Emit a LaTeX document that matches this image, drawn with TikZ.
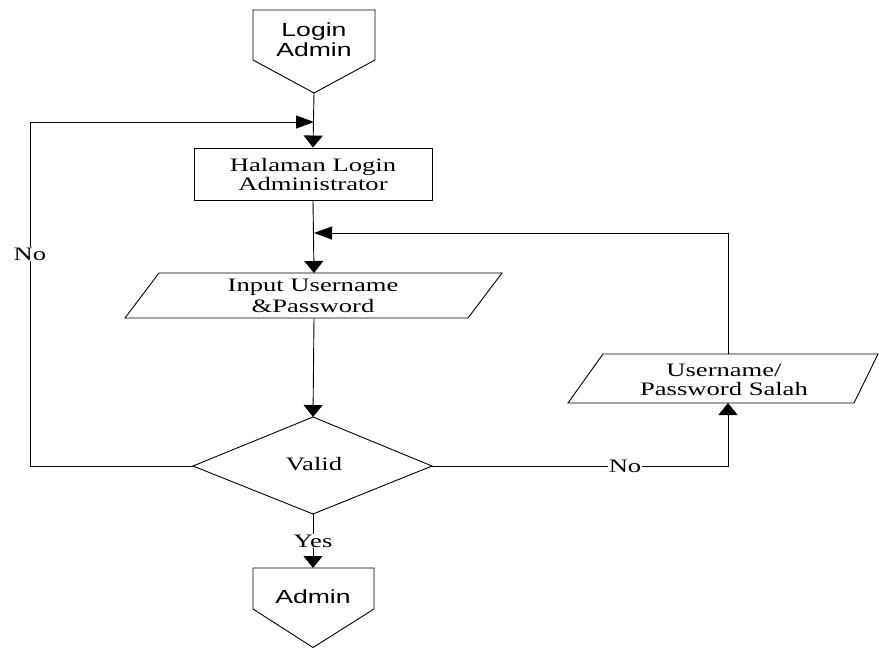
\documentclass[tikz,border=0pt]{standalone}
\usepackage{fontspec}
\setmainfont{Liberation Serif}
\newfontfamily\arialf{Liberation Sans}
\usetikzlibrary{arrows.meta}
\newcommand\sx[1]{\scalebox{1.4}[1]{#1}}
\begin{document}
\begin{tikzpicture}[x=1pt,y=-1pt,line width=0.9pt,
  font=\fontsize{19}{20}\selectfont,
  txt/.style={align=center,inner sep=1pt},
  lbl/.style={fill=white,inner sep=1pt},
  outline/.style={draw=black,line join=miter},
  varr/.style={-{Triangle[length=12pt,width=19pt]}},
  harr/.style={-{Triangle[length=18pt,width=13pt]}}]
\useasboundingbox (0,0) rectangle (879,648);

% Login Admin (off-page connector)
\draw[outline] (253,10) -- (375,10) -- (375,60) -- (314,93) -- (253,60) -- cycle;
\node[txt,font=\arialf\fontsize{19}{20}\selectfont] (login) at (314,40) {\sx{Login}\\\sx{Admin}};
\coordinate (loginTip) at (314,93);

% Halaman Login Administrator
\node[draw,minimum width=238pt,minimum height=52pt,inner sep=0pt,align=center,
  font=\fontsize{19}{19}\selectfont] (halaman) at (313,174) {\sx{Halaman Login}\\\sx{Administrator}};
\coordinate (j1) at (314,122);
\coordinate (j2) at (314,233);

% Input Username & Password
\draw[outline] (159,273) -- (502,273) -- (468,318) -- (125,318) -- cycle;
\node[txt,font=\fontsize{19}{21}\selectfont] (input) at (313,296) {\sx{Input Username}\\\sx{\&Password}};
\coordinate (inTop) at (314,273);
\coordinate (inBot) at (314,318);

% Valid diamond
\draw[outline] (313,417) -- (432,466) -- (313,514) -- (193,466) -- cycle;
\node[txt] (valid) at (314,464.5) {\sx{Valid}};
\coordinate (vTop) at (313,417);
\coordinate (vBot) at (313,514);
\coordinate (vL) at (193,466);
\coordinate (vR) at (432,466);

% Username / Password Salah
\draw[outline] (603,354) -- (878,354) -- (854,403) -- (568,403) -- cycle;
\node[txt,font=\fontsize{19}{19}\selectfont] (salah) at (724,380) {\sx{Username/}\\\sx{Password Salah}};
\coordinate (userTop) at (728,354);
\coordinate (userBot) at (728,403);

% Admin (off-page connector)
\draw[outline] (253,568) -- (374,568) -- (374,609) -- (313,647.5) -- (253,609) -- cycle;
\node[txt,font=\arialf\fontsize{19}{20}\selectfont] (admin) at (313,597) {\sx{Admin}};
\coordinate (adminTop) at (313,568);

% Connectors
\draw[varr] (loginTip) -- (halaman.north);
\draw[harr] (vL) -- ++(-163,0) |- (j1);
\draw[varr] (halaman.south) -- (inTop);
\draw[harr] (userTop) |- (j2);
\draw[varr] (inBot) -- (vTop);
\draw[varr] (vBot) -- (adminTop);
\draw[varr] (vR) -| (userBot);

% Labels
\node[lbl] (noL) at (30,254) {\sx{No}};
\node[lbl] (yes) at (313,541) {\sx{Yes}};
\node[lbl] (noR) at (625,466) {\sx{No}};
\end{tikzpicture}
\end{document}
